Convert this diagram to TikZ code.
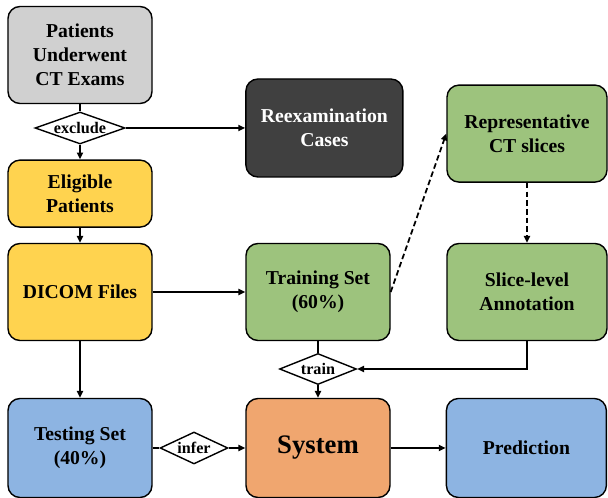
\documentclass[tikz,border=0pt]{standalone}
\usepackage{fontspec}
\setmainfont{Liberation Serif}
\usetikzlibrary{shapes.geometric,arrows.meta}
\definecolor{boxgray}{HTML}{D0D0D0}
\definecolor{boxdark}{HTML}{404040}
\definecolor{boxyellow}{HTML}{FFD34F}
\definecolor{boxgreen}{HTML}{9DC37D}
\definecolor{boxblue}{HTML}{8DB4E2}
\definecolor{boxorange}{HTML}{F0A66F}
\begin{document}
\begin{tikzpicture}[
       line width=1pt,
       stage/.style={
         rectangle,
         rounded corners=0.3cm,
         draw=black,
         align=center,
         inner sep=2pt,
         font=\fontsize{14}{17}\selectfont\bfseries,
         minimum width=3.6cm,
         minimum height=2.425cm
       },
       gate/.style={
         diamond,
         draw=black,
         fill=white,
         aspect=3,
         inner sep=0pt,
         font=\fontsize{11.5}{13}\selectfont\bfseries
       },
       flow/.style={-{Triangle[length=1.7mm,width=1.5mm]}, line width=1.25pt},
       link/.style={line width=1.25pt},
       hint/.style={dash pattern=on 4pt off 2.2pt}
     ]

       \useasboundingbox (0,0) rectangle (15.2,-12.45);

       \node (exams) at (2.0,-1.375) [stage, fill=boxgray]{Patients\\Underwent\\CT Exams};
       \node (exclude) at (2.0,-3.2) [gate, minimum width=2.25cm, minimum height=0.8cm]{exclude};
       \node (reexam) at (8.11,-3.2) [stage, fill=boxdark, text=white,
         minimum width=3.925cm, minimum height=2.45cm]{Reexamination\\Cases};
       \node (eligible) at (2.0,-4.84) [stage, fill=boxyellow, minimum height=1.675cm]{Eligible\\Patients};
       \node (dicom) at (2.0,-7.3) [stage, fill=boxyellow]{DICOM Files};
       \node (training) at (7.95,-7.3) [stage, fill=boxgreen]{Training Set\\(60\%)};
       \node (repr) at (13.175,-3.34) [stage, fill=boxgreen, minimum width=4.0cm]{Representative\\CT slices};
       \node (slice) at (13.175,-7.3) [stage, fill=boxgreen, minimum width=4.0cm]{Slice-level\\Annotation};
       \node (train) at (7.95,-9.225) [gate, minimum width=1.925cm, minimum height=0.775cm]{train};
       \node (testing) at (2.0,-11.2) [stage, fill=boxblue, minimum height=2.475cm]{Testing Set\\(40\%)};
       \node (infer) at (4.85,-11.2) [gate, minimum width=1.65cm, minimum height=0.8cm]{infer};
       \node (system) at (7.95,-11.2) [stage, fill=boxorange, minimum height=2.475cm,
         font=\fontsize{19}{22}\selectfont\bfseries]{System};
       \node (prediction) at (13.16,-11.2) [stage, fill=boxblue, minimum width=4.0cm,
         minimum height=2.475cm]{Prediction};

       \draw [link] (exams) -- (exclude);
       \draw [flow] (exclude) -- (eligible);
       \draw [flow] (exclude) -- (reexam);
       \draw [flow] (eligible) -- (dicom);
       \draw [flow] (dicom) -- (training);
       \draw [flow] (dicom) -- (testing);

       \draw [flow, hint] (training.east) -- (repr.west);
       \draw [flow, hint] (repr) -- (slice);

       \draw [link] (training) -- (train);
       \draw [flow] (slice.south) |- (train.east);
       \draw [flow] (train) -- (system);

       \draw [link] (testing) -- (infer);
       \draw [flow] (infer) -- (system);
       \draw [flow] (system) -- (prediction);

\end{tikzpicture}
\end{document}
